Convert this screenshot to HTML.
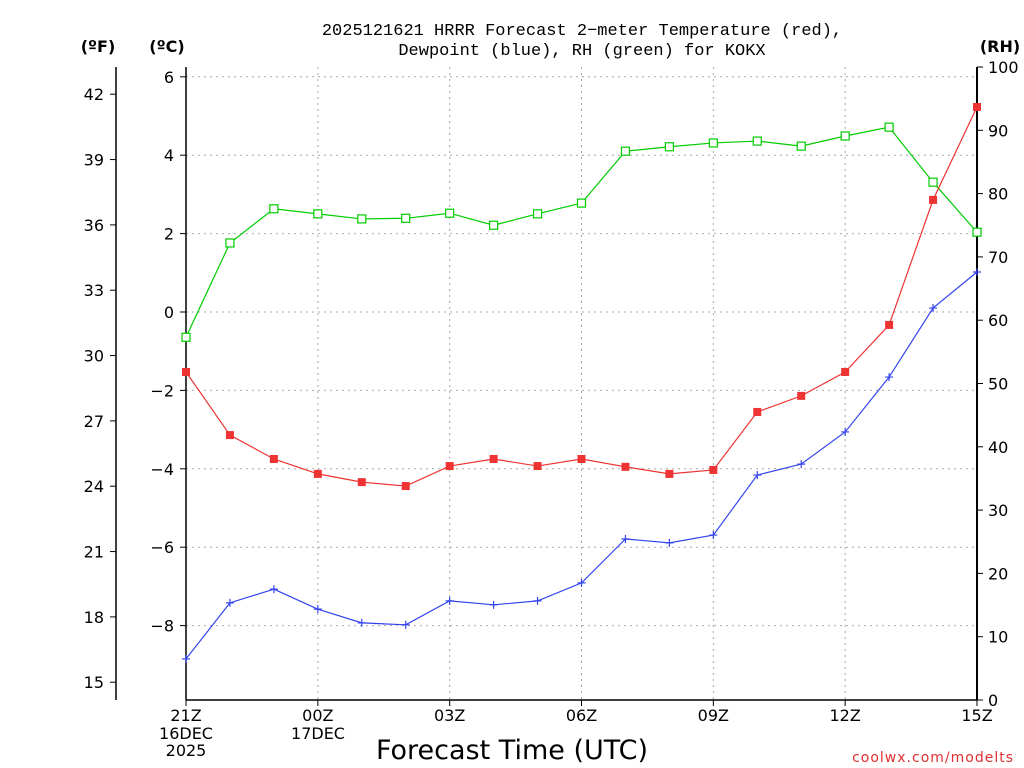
<!DOCTYPE html>
<html><head><meta charset="utf-8"><style>
body{margin:0;background:#fff;}
svg{display:block;font-family:"DejaVu Sans","Liberation Sans",sans-serif;}
</style></head><body>
<svg id="chart" width="1024" height="768" xmlns="http://www.w3.org/2000/svg">
<g id="grid"></g>
<g id="axes"></g>
<g id="series"></g>
<text x="582" y="35" text-anchor="middle" font-size="17" font-family="Liberation Mono, monospace">2025121621 HRRR Forecast 2−meter Temperature (red),</text>
<text x="582" y="55" text-anchor="middle" font-size="17" font-family="Liberation Mono, monospace">Dewpoint (blue), RH (green) for KOKX</text>
<text x="98" y="52" text-anchor="middle" font-size="16" font-weight="bold">(ºF)</text>
<text x="167" y="52" text-anchor="middle" font-size="16" font-weight="bold">(ºC)</text>
<text x="1000" y="52" text-anchor="middle" font-size="16" font-weight="bold">(RH)</text>
<text x="512" y="759" text-anchor="middle" font-size="27">Forecast Time (UTC)</text>
<text x="1014" y="762" text-anchor="end" font-size="14" fill="#e03030" letter-spacing="1">coolwx.com/modelts</text>
</svg>
<script>
const xLabels=["21Z","00Z","03Z","06Z","09Z","12Z","15Z"];
const tempC=[-1.53,-3.14,-3.75,-4.13,-4.34,-4.44,-3.93,-3.75,-3.93,-3.75,-3.95,-4.13,-4.03,-2.55,-2.14,-1.53,-0.33,2.86,5.23];
const dewC=[-8.85,-7.42,-7.07,-7.58,-7.93,-7.98,-7.37,-7.47,-7.37,-6.91,-5.79,-5.89,-5.69,-4.16,-3.88,-3.06,-1.66,0.10,1.02];
const rh=[57.3,72.2,77.6,76.8,76.0,76.1,76.9,75.0,76.8,78.5,86.7,87.4,88.0,88.3,87.5,89.1,90.5,81.8,73.9];
const cTicks=[6,4,2,0,-2,-4,-6,-8];
const fTicks=[42,39,36,33,30,27,24,21,18,15];
const rhTicks=[0,10,20,30,40,50,60,70,80,90,100];
const NS="http://www.w3.org/2000/svg";
const X0=186,X1=977,YT=67,YB=700;
const xs=h=>X0+(X1-X0)*h/18;
const yC=c=>312-39.2*c;
const yF=f=>yC((f-32)*5/9);
const yR=r=>YB-(YB-YT)*r/100;
function mk(p,tag,a){const e=document.createElementNS(NS,tag);for(const k in a)e.setAttribute(k,a[k]);p.appendChild(e);return e;}
const grid=document.getElementById('grid'),axes=document.getElementById('axes'),ser=document.getElementById('series');
cTicks.forEach(c=>{
 const l=mk(grid,'line',{x1:X0,x2:X1,y1:yC(c),y2:yC(c),stroke:'#aaa','stroke-dasharray':'2,4'});
 
 
 const t=mk(axes,'text',{x:174,y:yC(c)+6,'text-anchor':'end','font-size':16});
 t.textContent=c<0?'−'+(-c):c;
 
 
 mk(axes,'line',{x1:X0-6,x2:X0,y1:yC(c),y2:yC(c),stroke:'#000'});
});
for(let h=3;h<18;h+=3){
 const l=mk(grid,'line',{x1:xs(h),x2:xs(h),y1:YT,y2:YB,stroke:'#aaa','stroke-dasharray':'2,4'});
 
 
}
xLabels.forEach((s,i)=>{
 const x=xs(i*3);
 mk(axes,'line',{x1:x,x2:x,y1:YB,y2:YB+6,stroke:'#000'});
 const t=mk(axes,'text',{x:x,y:721,'text-anchor':'middle','font-size':16});
 t.textContent=s;
 
 
});
[[186,739,'16DEC'],[186,756,'2025'],[318,739,'17DEC']].forEach(d=>{
 const t=mk(axes,'text',{x:d[0],y:d[1],'text-anchor':'middle','font-size':16});t.textContent=d[2];
 
 
});
fTicks.forEach(f=>{
 mk(axes,'line',{x1:110,x2:116,y1:yF(f),y2:yF(f),stroke:'#000'});
 const t=mk(axes,'text',{x:104,y:yF(f)+6,'text-anchor':'end','font-size':16});t.textContent=f;
 
 
});
rhTicks.forEach(r=>{
 mk(axes,'line',{x1:X1,x2:X1+6,y1:yR(r),y2:yR(r),stroke:'#000'});
 const t=mk(axes,'text',{x:988,y:yR(r)+6,'font-size':16});t.textContent=r;
 
 
});
mk(axes,'line',{x1:116,x2:116,y1:YT,y2:YB,stroke:'#000','stroke-width':1.5});
mk(axes,'line',{x1:X0,x2:X0,y1:YT,y2:YB,stroke:'#000','stroke-width':1.5});
mk(axes,'line',{x1:X0,x2:X1,y1:YB,y2:YB,stroke:'#000','stroke-width':1.5});
mk(axes,'line',{x1:X1,x2:X1,y1:YT,y2:YB,stroke:'#000','stroke-width':2});
function series(vals,yf,col,mark,name){
 const pts=vals.map((v,i)=>[xs(i),yf(v)]);
 const pl=mk(ser,'polyline',{points:pts.map(p=>p.join(',')).join(' '),fill:'none',stroke:col,'stroke-width':1.2});
 
 
 pts.forEach(p=>{
  let m;
  if(mark==='fill')m=mk(ser,'rect',{x:p[0]-4,y:p[1]-4,width:8,height:8,fill:col});
  else if(mark==='open')m=mk(ser,'rect',{x:p[0]-4,y:p[1]-4,width:8,height:8,fill:'#fff',stroke:col,'stroke-width':1.2});
  else m=mk(ser,'path',{d:`M${p[0]-4},${p[1]}h8M${p[0]},${p[1]-4}v8`,stroke:col,'stroke-width':1.2});
  
  
 });
}
series(rh,yR,'#00cc00','open','rh');
series(tempC,yC,'#ee3333','fill','temperature');
series(dewC,yC,'#3344ee','plus','dewpoint');
</script>
</body></html>
